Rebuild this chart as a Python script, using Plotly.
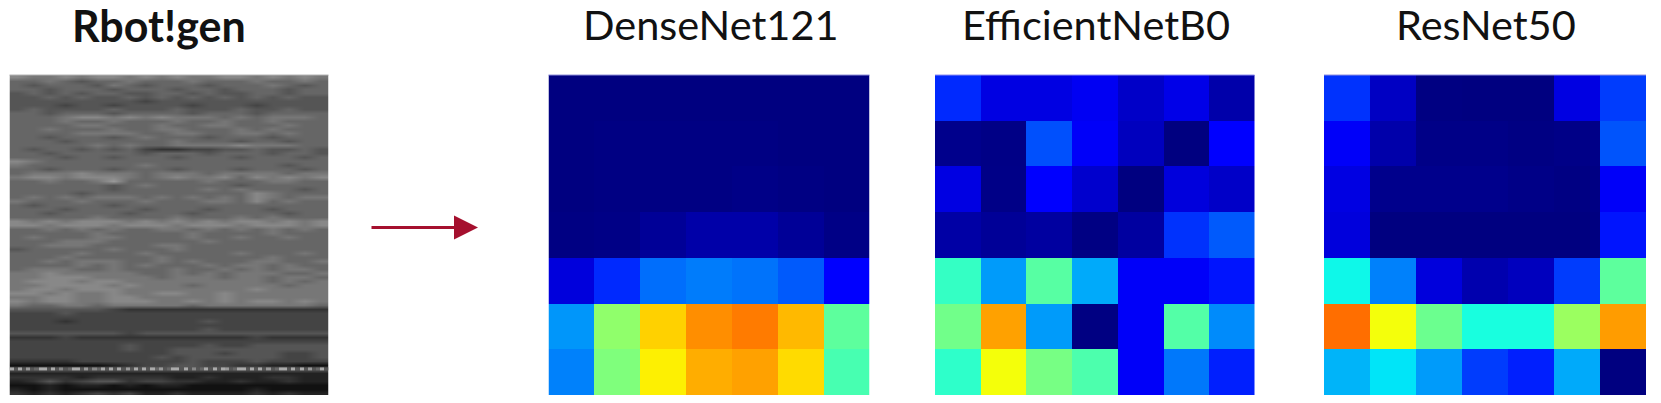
import plotly.graph_objects as go

WIDTH = 1661
HEIGHT = 403

# jet stops as used by the picture (value, colour)
jet = [
    [0.0, "#000080"], [0.11, "#0000ff"], [0.125, "#0000ff"], [0.35, "#00e5f8"],
    [0.375, "#14ffe3"], [0.64, "#f7ff08"], [0.66, "#ffec00"], [0.89, "#ff1300"],
    [0.91, "#e80000"], [1.0, "#800000"],
]

densenet = [
    [0.000, 0.000, 0.000, 0.000, 0.000, 0.000, 0.000],
    [0.000, 0.003, 0.003, 0.003, 0.003, 0.000, 0.000],
    [0.000, 0.003, 0.003, 0.003, 0.006, 0.003, 0.000],
    [0.003, 0.005, 0.020, 0.035, 0.035, 0.020, 0.005],
    [0.080, 0.165, 0.233, 0.247, 0.238, 0.213, 0.110],
    [0.272, 0.520, 0.689, 0.760, 0.780, 0.714, 0.460],
    [0.252, 0.500, 0.656, 0.727, 0.740, 0.678, 0.435],
]
efficientnet = [
    [0.165, 0.085, 0.085, 0.100, 0.062, 0.090, 0.036],
    [0.010, 0.005, 0.204, 0.105, 0.054, 0.000, 0.110],
    [0.085, 0.006, 0.110, 0.067, 0.000, 0.080, 0.062],
    [0.032, 0.020, 0.028, 0.003, 0.028, 0.174, 0.213],
    [0.412, 0.277, 0.453, 0.292, 0.105, 0.105, 0.145],
    [0.483, 0.740, 0.277, 0.002, 0.105, 0.448, 0.262],
    [0.405, 0.637, 0.490, 0.440, 0.105, 0.243, 0.155],
]
resnet = [
    [0.174, 0.058, 0.002, 0.000, 0.000, 0.085, 0.184],
    [0.105, 0.036, 0.006, 0.006, 0.003, 0.006, 0.208],
    [0.085, 0.010, 0.010, 0.010, 0.006, 0.003, 0.105],
    [0.080, 0.000, 0.000, 0.000, 0.000, 0.000, 0.145],
    [0.368, 0.252, 0.080, 0.040, 0.054, 0.184, 0.460],
    [0.794, 0.636, 0.477, 0.380, 0.380, 0.533, 0.745],
    [0.302, 0.350, 0.277, 0.184, 0.155, 0.292, 0.000],
]

# only the bands and streaks are kept, the pixel grain of the original is not reproduced
spec_rows = [
    "87787887878778878787", "66765667666766676676", "65666576566656667656", "66566656665665666566",
    "56565665566565566566", "55656556565656565655", "55555555455555555555", "55545545555455545555",
    "56555565556555655655", "66566656666566656666", "66678878787776767776", "66676676667667667666",
    "66667766676677666766", "66766676677666767666", "66667777667766776766", "66566656766656665666",
    "66656666667666566566", "66666767667777877766", "65665656433445565565", "66566666566656665665",
    "66656656665666566656", "87666666666666666666", "76666666766666666566", "66566656665666566656",
    "67778777677767777677", "78878887678778687878", "66766796666676667766", "66666656766666566666",
    "66666656666676766656", "66665666666666687666", "67676777676767687677", "76667666766677686766",
    "65666656666666666666", "66656666566656665666", "66566665666566666566", "66666766667666767666",
    "87878887878787887878", "88788878887888788878", "66767676677676767676", "66666766666766667666",
    "67666776666766766766", "66677766666676666666", "66777666677666666666", "56666676667666666666",
    "66667666766666766676", "66676666676666667666", "66767776676766677667", "66667676766676776766",
    "67776676667667676776", "77877777667676777667", "77888777767776776776", "78887887777777776767",
    "77888878777677777677", "78878887777777787777", "88787787788778777777", "77887788777778777777",
    "87887788877878788787", "76677677777677777776", "55555543333333333333", "44454444444444444444",
    "44444444444444444444", "44434444444454444444", "44444444444444444444", "44444444444454444444",
    "55555554555555555555", "33343333333333343333", "44444444444444444444", "44444445444454455555",
    "44444445445555555555", "44444444445554555445", "44444444454555555445", "33334444444544454444",
    "11111123445544332211", "55555555555555555555", "22222222222222222222", "33332333332232223322",
    "23534553443322322322", "11212212122111111111", "21211111111111121111", "32323434223222232322",
]
# the dotted line near the bottom of the spectrogram
spec_dots = "a5a5956aa5a5856aa59586a5a5a595a5a5a6956aa5a5856a5a5a956aa5a5a5956aa5a5a5956a5"

titles = ["Rbot!gen", "DenseNet121", "EfficientNetB0", "ResNet50"]
title_centers = [159, 711, 1096, 1486]


def hex_levels(text):
    return [int(c, 16) for c in text]


def px_x(v):
    return v / WIDTH


def px_y(v):
    return 1 - v / HEIGHT


grey = [[0, "#000000"], [1, "#ffffff"]]
fig = go.Figure()

# left picture
spec = [hex_levels(r) for r in spec_rows]
fig.add_trace(go.Heatmap(z=spec, zmin=0, zmax=15, colorscale=grey, showscale=False,
                         zsmooth="best", xaxis="x", yaxis="y", hoverinfo="skip"))
fig.add_trace(go.Heatmap(z=[hex_levels(spec_dots)], x0=-0.5 + 20 / len(spec_dots) / 2, dx=20 / len(spec_dots),
                         y0=73, dy=0.8, zmin=0, zmax=15, colorscale=grey, showscale=False,
                         xaxis="x", yaxis="y", hoverinfo="skip"))

panels = [(densenet, 548.5, 869.5, "2"), (efficientnet, 935, 1254.5, "3"), (resnet, 1324, 1646, "4")]
for z, left, right, n in panels:
    fig.add_trace(go.Heatmap(z=z, zmin=0, zmax=1, colorscale=jet, showscale=False,
                             xaxis="x" + n, yaxis="y" + n, hoverinfo="skip"))

plain = dict(showgrid=False, zeroline=False, showticklabels=False, ticks="", showline=False)
layout_axes = {
    "xaxis": dict(domain=[px_x(9.5), px_x(328.5)], range=[-0.5, 19.5], **plain),
    "yaxis": dict(domain=[px_y(395), px_y(75)], range=[79.5, -0.5], **plain),
}
for z, left, right, n in panels:
    layout_axes["xaxis" + n] = dict(domain=[px_x(left), px_x(right)], range=[-0.5, 6.5], anchor="y" + n, **plain)
    layout_axes["yaxis" + n] = dict(domain=[px_y(395), px_y(75)], range=[6.5, -0.5], anchor="x" + n, **plain)

annotations = []
for i, t in enumerate(titles):
    annotations.append(dict(
        text=f"<b>{t}</b>" if i == 0 else t, x=px_x(title_centers[i]), y=px_y(25.5 if i == 0 else 24.5),
        xref="paper", yref="paper", showarrow=False, xanchor="center", yanchor="middle",
        font=dict(family="Lato", size=43 if i == 0 else 41.5, color="#111111"),
    ))
annotations.append(dict(
    x=px_x(478), y=px_y(227.5), xref="paper", yref="paper", ax=-108, ay=0, axref="pixel", ayref="pixel",
    text="", showarrow=True, arrowhead=2, arrowsize=1.6, arrowwidth=3, arrowcolor="#a5102e",
))

edges = []
for left, right, col in [(9.5, 328.5, "#b4b4b4"), (548.5, 869.5, "#8f8fd8"), (935, 1254.5, "#8f8ff0"), (1324, 1646, "#8f8fe0")]:
    edges.append(dict(type="line", xref="paper", yref="paper", x0=px_x(left), x1=px_x(right),
                      y0=px_y(75), y1=px_y(75), line=dict(color=col, width=1)))

fig.update_layout(
    width=WIDTH, height=HEIGHT, margin=dict(l=0, r=0, t=0, b=0),
    paper_bgcolor="white", plot_bgcolor="white", showlegend=False,
    annotations=annotations, shapes=edges, **layout_axes,
)

fig.write_html("out.html", config=dict(displayModeBar=False), post_script="document.body.style.margin='0';")
